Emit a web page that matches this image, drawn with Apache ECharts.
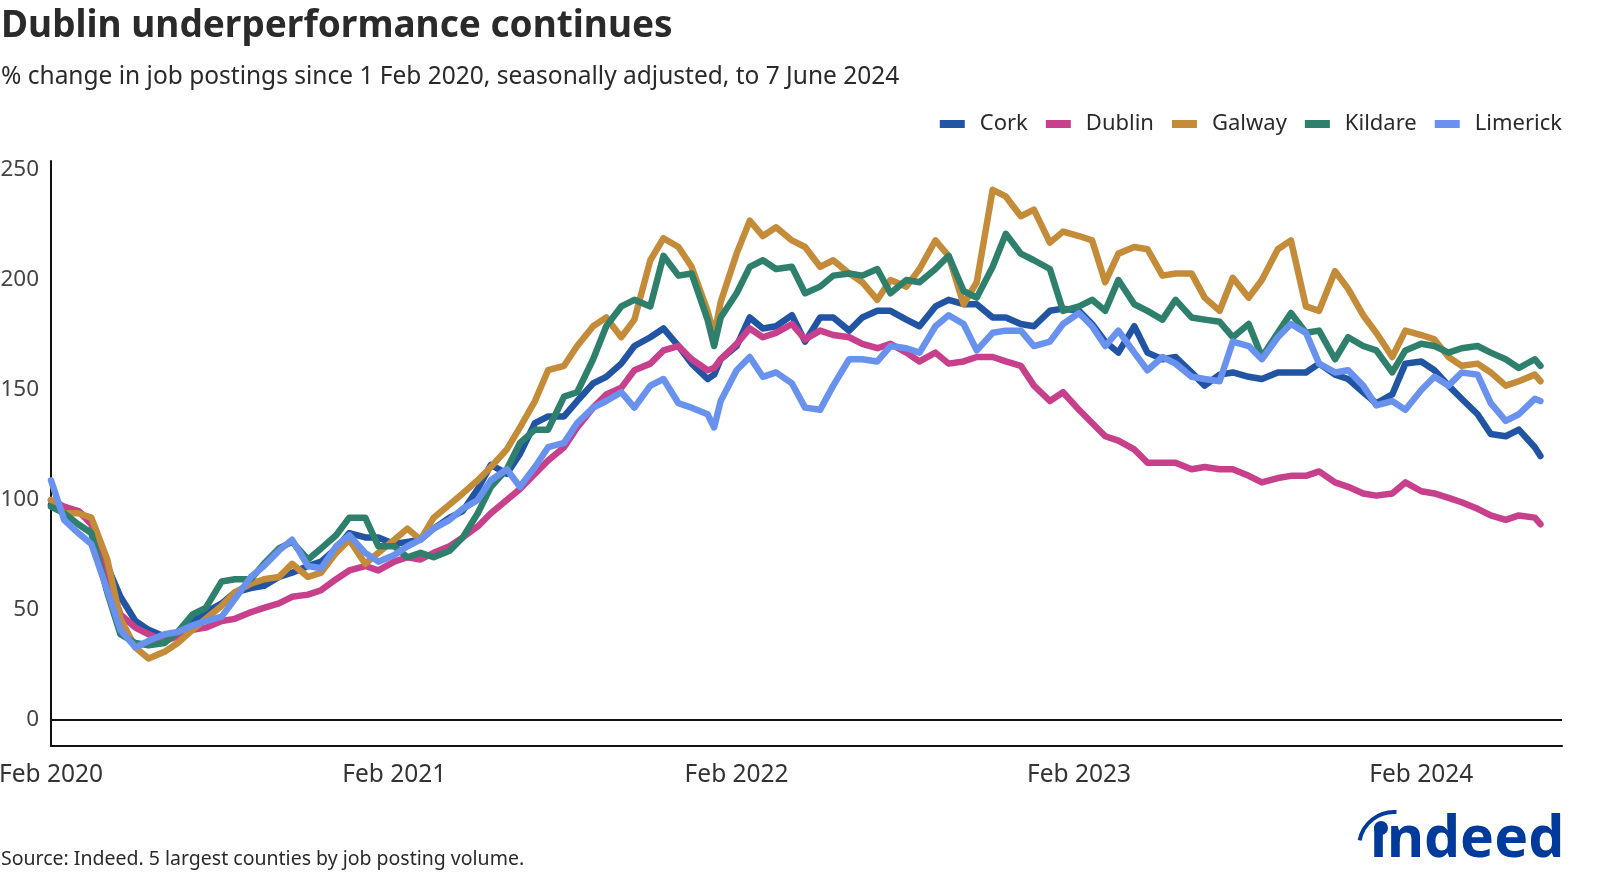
<!DOCTYPE html>
<html><head><meta charset="utf-8">
<script src="https://cdn.jsdelivr.net/npm/echarts@6/dist/echarts.min.js"></script>
<style>html,body{margin:0;padding:0;background:#fff}#c{width:1600px;height:889px}</style>
</head><body><div id="c"></div>
<script>
const dates = ['2020-02-01','2020-02-15','2020-03-01','2020-03-15','2020-04-01','2020-04-15','2020-05-01','2020-05-15','2020-06-01','2020-06-15','2020-07-01','2020-07-15','2020-08-01','2020-08-15','2020-09-01','2020-09-15','2020-10-01','2020-10-15','2020-11-01','2020-11-15','2020-12-01','2020-12-15',
'2021-01-01','2021-01-15','2021-02-01','2021-02-15','2021-03-01','2021-03-15','2021-04-01','2021-04-15','2021-05-01','2021-05-15','2021-06-01','2021-06-15','2021-07-01','2021-07-15','2021-08-01','2021-08-15','2021-09-01','2021-09-15','2021-10-01','2021-10-15','2021-11-01','2021-11-15','2021-12-01','2021-12-15',
'2022-01-01','2022-01-08','2022-01-15','2022-02-01','2022-02-15','2022-03-01','2022-03-15','2022-04-01','2022-04-15','2022-05-01','2022-05-15','2022-06-01','2022-06-15','2022-07-01','2022-07-15','2022-08-01','2022-08-15','2022-09-01','2022-09-15','2022-10-01','2022-10-15','2022-11-01','2022-11-15','2022-12-01','2022-12-15',
'2023-01-01','2023-01-15','2023-02-01','2023-02-15','2023-03-01','2023-03-15','2023-04-01','2023-04-15','2023-05-01','2023-05-15','2023-06-01','2023-06-15','2023-07-01','2023-07-15','2023-08-01','2023-08-15','2023-09-01','2023-09-15','2023-10-01','2023-10-15','2023-11-01','2023-11-15','2023-12-01','2023-12-15',
'2024-01-01','2024-01-15','2024-02-01','2024-02-15','2024-03-01','2024-03-15','2024-04-01','2024-04-15','2024-05-01','2024-05-15','2024-06-01','2024-06-07'];

const cork = [98,95,95,90,70,56,45,41,38,39,45,49,53,58,60,61,65,67,70,72,78,85,
83,83,80,81,82,87,92,95,105,116,112,121,135,138,138,145,153,156,162,170,174,178,170,162,
155,157,164,170,183,178,179,184,172,183,183,177,183,186,186,182,179,188,191,189,189,183,183,180,179,
186,187,186,180,172,167,179,167,164,165,158,152,157,158,156,155,158,158,158,162,157,155,149,144,
148,162,163,159,152,146,139,130,129,132,124,120];

const dublin = [100,97,95,89,65,48,42,39,36,38,41,42,45,46,49,51,53,56,57,59,64,68,
70,68,72,74,73,76,79,83,88,94,100,105,112,118,124,133,142,148,151,159,162,168,170,164,
159,160,164,171,178,174,176,180,173,177,175,174,171,169,171,167,163,167,162,163,165,165,163,161,152,
145,149,141,135,129,127,123,117,117,117,114,115,114,114,111,108,110,111,111,113,108,106,103,102,
103,108,104,103,101,99,96,93,91,93,92,89];

const galway = [100,94,94,92,73,46,33,28,31,35,41,46,52,58,62,64,65,71,65,67,76,82,
71,76,82,87,82,92,98,103,109,115,123,133,145,159,161,170,179,183,174,182,209,219,215,206,
186,175,190,212,227,220,224,218,215,206,209,203,199,191,200,197,205,218,211,189,199,241,238,229,232,
217,222,220,218,199,212,215,214,202,203,203,192,186,201,192,200,214,218,188,186,204,196,184,176,
165,177,175,173,165,161,162,158,152,154,157,154];

const kildare = [97,94,89,85,58,39,35,34,35,40,48,51,63,64,64,71,78,81,73,78,84,92,
92,79,79,74,76,74,77,83,94,106,114,126,132,132,147,149,164,179,188,191,188,211,202,203,
182,170,183,194,206,209,205,206,194,197,202,203,202,205,194,200,199,205,211,195,192,206,221,212,209,
205,186,188,191,186,200,189,186,182,191,183,182,181,174,180,165,176,185,176,177,164,174,170,168,
158,168,171,170,167,169,170,167,164,160,164,161];

const limerick = [109,91,85,80,59,41,33,36,39,40,43,45,47,55,65,70,77,82,70,69,79,84,
76,72,75,79,82,87,91,96,100,109,114,106,115,124,126,135,142,145,149,142,152,155,144,142,
139,133,145,159,165,156,158,153,142,141,152,164,164,163,170,169,167,179,184,180,168,176,177,177,170,
172,180,185,179,170,177,167,159,165,162,156,155,154,172,170,164,174,180,176,162,158,159,152,143,
145,141,150,156,152,158,157,144,136,139,146,145];

const seriesNames = ['Cork','Dublin','Galway','Kildare','Limerick'];
const seriesColors = ['#2155A4','#C8408C','#C48B38','#2E806C','#6892EE'];
const yTicks = [0,50,100,150,200,250];
const xTickDates = ['2020-02-01','2021-02-01','2022-02-01','2023-02-01','2024-02-01'];
const xTickLabels = ['Feb 2020','Feb 2021','Feb 2022','Feb 2023','Feb 2024'];

function toTs(s){const p=s.split('-').map(Number);return Date.UTC(p[0],p[1]-1,p[2]);}
const xTickTs = xTickDates.map(toTs);
const allValues = [cork,dublin,galway,kildare,limerick];
const FONT = "'Noto Sans', 'Open Sans', sans-serif";

const chart = echarts.init(document.getElementById('c'), null, {renderer:'canvas'});
const series = seriesNames.map((n,k)=>{
  const s = {
    name:n, type:'line', showSymbol:false, symbol:'none', smooth:false,
    data: dates.map((d,i)=>[toTs(d), allValues[k][i]]),
    lineStyle:{width:6.5, color:seriesColors[k], cap:'round', join:'round'},
    itemStyle:{color:seriesColors[k]},
    z: 3 + k
  };
  if(k===0){
    s.markLine = {silent:true, symbol:['none','none'], label:{show:false},
      lineStyle:{color:'#111', width:2, type:'solid'}, data:[{yAxis:0}], animation:false};
  }
  return s;
});

chart.setOption({
  animation:false,
  backgroundColor:'#fff',
  textStyle:{fontFamily:FONT},
  title:[
    {text:'Dublin underperformance continues', left:1, top:8, padding:0,
     textStyle:{fontFamily:FONT, fontSize:37, fontWeight:'bold', color:'#2a2a2a'}},
    {text:'% change in job postings since 1 Feb 2020, seasonally adjusted, to 7 June 2024', left:1, top:65, padding:0,
     textStyle:{fontFamily:FONT, fontSize:24.5, fontWeight:'normal', color:'#2a2a2a'}},
    {text:'Source: Indeed. 5 largest counties by job posting volume.', left:1, top:849, padding:0,
     textStyle:{fontFamily:FONT, fontSize:19.5, fontWeight:'normal', color:'#2a2a2a'}}
  ],
  legend:{
    right:38, top:113, icon:'rect', itemWidth:25, itemHeight:8, itemGap:18, padding:0,
    textStyle:{fontFamily:FONT, fontSize:22, color:'#2a2a2a', padding:[0,0,0,10]},
    data:seriesNames
  },
  grid:{left:51, right:38, top:161, bottom:143, containLabel:false, outerBoundsMode:'none'},
  xAxis:{
    type:'value', min:toTs('2020-02-01'), max:toTs('2024-06-30'),
    axisLine:{show:true, onZero:false, lineStyle:{color:'#111', width:2}},
    axisTick:{show:false},
    splitLine:{show:false},
    axisLabel:{
      customValues:xTickTs, showMinLabel:true, showMaxLabel:true,
      fontFamily:FONT, fontSize:24.5, color:'#333', margin:17,
      formatter:function(v){const i=xTickTs.indexOf(v);return i>=0?xTickLabels[i]:'';}
    }
  },
  yAxis:{
    type:'value', min:-11.8, max:254.1,
    axisLine:{show:true, onZero:false, lineStyle:{color:'#111', width:2}},
    axisTick:{show:false},
    splitLine:{show:false},
    axisLabel:{customValues:yTicks, fontFamily:FONT, fontSize:22.5, color:'#444', margin:12,
      showMinLabel:true, showMaxLabel:true}
  },
  series:series,
  graphic:[
    {type:'text', left:1370, top:812, z:10,
     style:{text:'\u0131ndeed', fill:'#003A9B', font:"bold 57px 'Noto Sans', sans-serif"}},
    {type:'circle', z:10, shape:{cx:1381, cy:828, r:7}, style:{fill:'#003A9B'}},
    {type:'arc', z:10, shape:{cx:1394, cy:847, r:35, startAngle:-2.95, endAngle:-1.5, clockwise:true},
     style:{stroke:'#003A9B', lineWidth:4, fill:null}}
  ]
});
</script></body></html>
